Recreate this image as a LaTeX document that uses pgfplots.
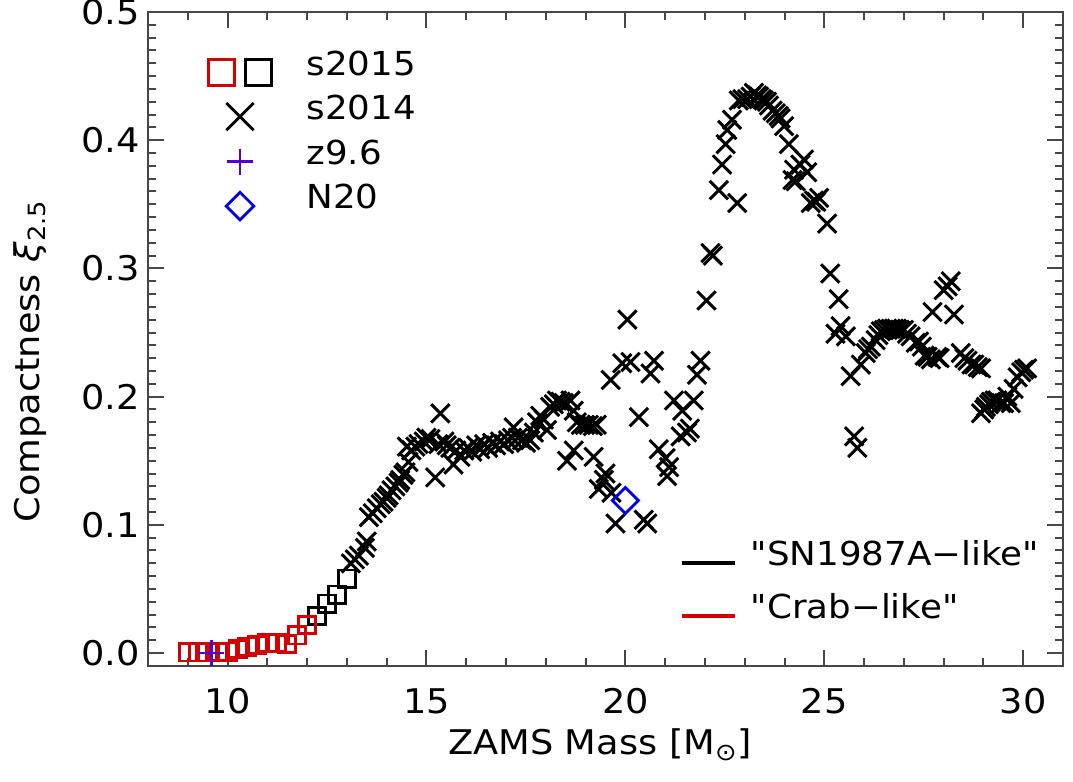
\documentclass[border=0pt]{standalone}
\usepackage{fontspec}
\setmainfont{DejaVu Sans}[FakeStretch=1.08, Ligatures=TeXOff]
\usepackage{pgfplots}
\pgfplotsset{compat=1.18}

\definecolor{sqred}{RGB}{210,0,0}
\definecolor{zblue}{RGB}{80,0,210}
\definecolor{nblue}{RGB}{0,0,225}
\definecolor{axgray}{RGB}{70,70,70}

\pgfplotstableread{
x y
9.00 0.0005
9.25 0.0005
9.50 0.0005
9.75 0.0007
10.00 0.0012
10.25 0.0030
10.50 0.0050
10.75 0.0065
11.00 0.0078
11.25 0.0080
11.50 0.0070
11.75 0.0138
12.00 0.0218
}\redsq

\pgfplotstableread{
x y
12.25 0.0290
12.50 0.0385
12.75 0.0456
13.00 0.0580
}\blacksq

\pgfplotstableread{
x y
13.10 0.070
13.20 0.073
13.30 0.076
13.45 0.082
13.50 0.087
13.55 0.106
13.65 0.109
13.75 0.113
13.85 0.116
13.92 0.118
14.00 0.121
14.05 0.123
14.12 0.127
14.22 0.130
14.30 0.133
14.34 0.135
14.42 0.139
14.47 0.141
14.55 0.149
14.51 0.161
14.62 0.158
14.72 0.161
14.80 0.163
14.93 0.165
15.00 0.168
15.10 0.167
15.22 0.137
15.35 0.187
15.30 0.163
15.45 0.165
15.51 0.162
15.60 0.160
15.68 0.147
15.75 0.158
15.85 0.153
15.95 0.158
16.05 0.160
16.15 0.157
16.25 0.162
16.35 0.159
16.45 0.163
16.55 0.160
16.65 0.164
16.75 0.162
16.85 0.165
16.95 0.163
17.05 0.166
17.15 0.168
17.19 0.176
17.30 0.168
17.40 0.166
17.50 0.164
17.61 0.166
17.70 0.172
17.78 0.180
17.86 0.185
17.95 0.182
18.03 0.174
18.11 0.192
18.20 0.194
18.28 0.197
18.37 0.196
18.45 0.195
18.53 0.150
18.62 0.197
18.70 0.158
18.70 0.189
18.78 0.180
18.88 0.178
18.98 0.178
19.08 0.178
19.18 0.177
19.20 0.153
19.28 0.178
19.33 0.128
19.46 0.135
19.50 0.140
19.63 0.213
19.65 0.125
19.75 0.101
19.92 0.226
20.05 0.260
20.13 0.227
20.34 0.184
20.46 0.104
20.55 0.101
20.63 0.218
20.72 0.228
20.84 0.159
21.01 0.152
21.10 0.145
21.05 0.138
21.22 0.197
21.39 0.169
21.43 0.189
21.55 0.172
21.62 0.175
21.72 0.197
21.80 0.217
21.89 0.228
22.04 0.275
22.14 0.312
22.20 0.310
22.35 0.361
22.43 0.381
22.52 0.397
22.56 0.408
22.68 0.416
22.81 0.351
22.85 0.431
22.94 0.432
23.06 0.432
23.15 0.434
23.23 0.437
23.31 0.435
23.36 0.434
23.43 0.432
23.48 0.431
23.56 0.430
23.61 0.427
23.70 0.423
23.78 0.421
23.85 0.419
23.90 0.417
23.99 0.411
24.11 0.397
24.20 0.369
24.28 0.368
24.24 0.377
24.40 0.381
24.49 0.385
24.57 0.375
24.66 0.351
24.74 0.353
24.87 0.355
24.80 0.352
25.07 0.335
25.15 0.296
25.36 0.276
25.28 0.249
25.41 0.255
25.54 0.247
25.66 0.216
25.75 0.169
25.83 0.160
25.92 0.225
26.04 0.234
26.10 0.237
26.17 0.239
26.29 0.244
26.36 0.248
26.42 0.251
26.50 0.252
26.58 0.253
26.67 0.253
26.75 0.253
26.82 0.253
26.90 0.252
27.00 0.252
27.08 0.249
27.17 0.247
27.30 0.242
27.38 0.243
27.45 0.239
27.52 0.232
27.60 0.231
27.68 0.229
27.72 0.266
27.84 0.231
27.90 0.230
28.00 0.283
28.10 0.286
28.18 0.290
28.26 0.264
28.43 0.234
28.52 0.230
28.60 0.228
28.70 0.225
28.77 0.225
28.86 0.223
28.94 0.222
28.94 0.187
29.02 0.190
29.06 0.192
29.14 0.194
29.19 0.196
29.28 0.197
29.35 0.197
29.45 0.195
29.52 0.195
29.60 0.200
29.69 0.195
29.76 0.206
29.86 0.215
29.95 0.219
30.02 0.221
30.10 0.222
}\sfourteen

\begin{document}
\begin{tikzpicture}
\pgfplotsset{
  myaxis/.style={
    scale only axis, width=457.5pt, height=327pt,
    xmin=8, xmax=31, ymin=-0.0101, ymax=0.5,
    font=\fontsize{17}{20}\selectfont,
  }
}
\begin{axis}[
  myaxis,
  xtick={10,15,20,25,30}, ytick={0,0.1,0.2,0.3,0.4,0.5},
  minor xtick={8,9,...,31},
  minor ytick={0,0.01,...,0.5},
  tick align=inside, major tick length=8pt, minor tick length=4pt,
  axis line style={axgray, line width=1pt},
  every tick/.style={axgray, line width=1pt},
  /pgf/number format/assume math mode=true,
  ticklabel style={font=\fontsize{17}{19}\selectfont},
  yticklabel style={xshift=-0.5pt, /pgf/number format/.cd, fixed, fixed zerofill, precision=1},
  xticklabel style={yshift=-7.8pt},
  xlabel={ZAMS Mass [M\textsubscript{⊙}]},
  ylabel={Compactness {\itshape ξ}\textsubscript{2.5}},
  every axis x label/.style={at={(axis description cs:0.494,-0.136)}, anchor=base},
  every axis y label/.style={at={(axis description cs:-0.129,0.466)}, anchor=center, rotate=90},
  legend style={at={(axis description cs:0.0634,0.9537)}, anchor=north west,
    draw=none, fill=none, inner sep=0pt, outer sep=0pt,
    font=\fontsize{16.5}{19}\selectfont,
    nodes={inner sep=0pt}, cells={anchor=west}, column sep=16.3pt, row sep=0pt},
]
\addlegendimage{legend image code/.code={
  \path[draw=none,fill=none] (-17pt,-11pt) rectangle (17pt,11pt);
  \draw[sqred,line width=1.4pt] (-15.85pt,-10.5pt) rectangle (-2.85pt,2.5pt);
  \draw[black,line width=1.4pt] (2.85pt,-10.5pt) rectangle (15.85pt,2.5pt);
}}
\addlegendentry{s2015}
\addlegendimage{legend image code/.code={
  \path[draw=none,fill=none] (-17pt,-11pt) rectangle (17pt,11pt);
  \draw[black,line width=1.4pt] (-6.8pt,-10.8pt) -- (6.8pt,2.8pt) (-6.8pt,2.8pt) -- (6.8pt,-10.8pt);
}}
\addlegendentry{s2014}
\addlegendimage{legend image code/.code={
  \path[draw=none,fill=none] (-17pt,-11pt) rectangle (17pt,11pt);
  \draw[zblue,line width=1.4pt] (-6.5pt,-4pt) -- (6.5pt,-4pt) (0pt,-10.5pt) -- (0pt,2.5pt);
}}
\addlegendentry{z9.6}
\addlegendimage{legend image code/.code={
  \path[draw=none,fill=none] (-17pt,-11pt) rectangle (17pt,11pt);
  \draw[nblue,line width=1.4pt] (0pt,2.9pt) -- (6.9pt,-4pt) -- (0pt,-10.9pt) -- (-6.9pt,-4pt) -- cycle;
}}
\addlegendentry{N20}

\addplot[forget plot, only marks, mark=square, mark size=4.3pt, mark options={draw=black, line width=1.4pt}] table {\blacksq};
\addplot[forget plot, only marks, mark=square, mark size=4.3pt, mark options={draw=sqred, line width=1.4pt}] table {\redsq};
\addplot[forget plot, only marks, mark=x, mark size=6.5pt, mark options={draw=black, line width=1.5pt}] table {\sfourteen};
\addplot[forget plot, only marks, mark=+, mark size=6.3pt, mark options={draw=zblue, line width=1.4pt}] coordinates {(9.6,0.0)};
\addplot[forget plot, only marks, mark=square, mark size=4.6pt, mark options={draw=nblue, line width=1.4pt, rotate=45}] coordinates {(20.0,0.119)};
\end{axis}

\begin{axis}[
  myaxis, hide axis,
  legend style={at={(axis description cs:0.5814,0.2118)}, anchor=north west,
    draw=none, fill=none, inner sep=0pt, outer sep=0pt,
    font=\fontsize{16.5}{19}\selectfont,
    nodes={inner sep=0pt}, cells={anchor=west}, column sep=7pt, row sep=0pt},
]
\addlegendimage{legend image code/.code={
  \path[draw=none,fill=none] (0pt,-13.25pt) rectangle (27pt,13.25pt);
  \draw[black,line width=1.7pt] (0pt,-4.6pt) -- (26.7pt,-4.6pt);
}}
\addlegendentry{"SN1987A−like"}
\addlegendimage{legend image code/.code={
  \path[draw=none,fill=none] (0pt,-13.25pt) rectangle (27pt,13.25pt);
  \draw[sqred,line width=1.7pt] (0pt,-4.6pt) -- (26.7pt,-4.6pt);
}}
\addlegendentry{"Crab−like"}
\end{axis}

\pgfresetboundingbox
\path (current axis.south west) ++(-74pt,-58pt) rectangle ++(536.5pt,391pt);
\end{tikzpicture}
\end{document}
